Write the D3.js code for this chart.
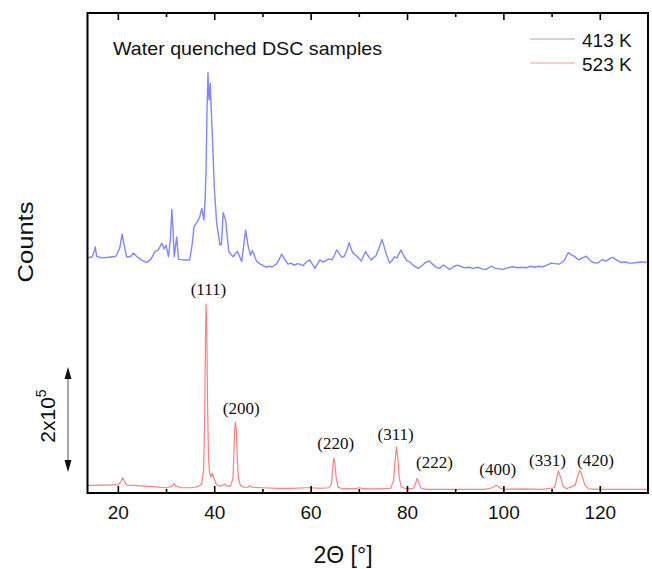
<!DOCTYPE html>
<html>
<head>
<meta charset="utf-8">
<script src="https://cdn.jsdelivr.net/npm/d3@7/dist/d3.min.js"></script>
<style>
  body { margin: 0; background: #fff; }
  text { font-family: "Liberation Sans", Arial, sans-serif; fill: #111; }
  .hkl { font-family: "Liberation Serif", "Times New Roman", serif; }
</style>
</head>
<body>
<div id="chart"></div>
<script>
// counts are in units of 10^3 ([2theta, kcounts])
var scan413 = [
  [13.6,448],[14.6,450],[15.0,461],[15.2,469],[15.5,451],[16.5,448],[18,449],[19.5,451],
  [20.3,467],[20.8,493],[21.2,472],[21.7,450],[22.5,450],[23.1,457],[23.8,451],[24.7,444],
  [25.9,439],[26.8,446],[27.6,460],[28.3,463],[29.0,476],[29.5,465],[29.9,472],[30.4,450],
  [30.8,483],[31.1,540],[31.4,491],[31.6,450],[32.1,488],[32.5,445],[33.5,444],[34.8,444],
  [35.3,472],[35.7,507],[36.2,514],[36.6,520],[36.9,526],[37.3,542],[37.75,520],[38.0,558],
  [38.2,615],[38.4,730],[38.6,801],[38.75,758],[38.85,749],[39.06,780],[39.27,730],[39.55,672],
  [39.9,583],[40.4,514],[41.1,472],[41.4,474],[41.75,534],[42.25,520],[42.9,460],[43.8,450],
  [44.7,460],[45.6,441],[46.4,501],[46.9,472],[47.4,453],[47.8,462],[48.7,441],[49.3,437],
  [49.9,434],[50.7,430],[51.3,432],[51.9,431],[52.8,436],[53.3,444],[53.9,455],[54.4,447],
  [55.2,436],[55.8,438],[56.5,434],[57.2,437],[57.65,436],[58.3,433],[59.0,440],[59.7,444],
  [60.2,437],[60.8,428],[61.3,436],[61.8,444],[62.4,440],[63,442],[63.6,446],[64.3,444],
  [64.8,452],[65.3,463],[65.9,455],[66.4,449],[66.9,451],[67.4,462],[67.9,477],[68.3,465],
  [68.7,457],[69.4,452],[70.0,446],[70.4,442],[70.9,452],[71.3,460],[71.8,452],[72.5,444],
  [73.0,449],[73.4,451],[74.0,465],[74.7,483],[75.2,468],[75.7,452],[76.3,438],[76.8,443],
  [77.3,450],[77.8,448],[78.2,455],[78.7,463],[79.2,452],[79.8,443],[80.5,440],[81.3,433],
  [82.2,428],[82.9,432],[83.7,439],[84.5,442],[85.2,436],[85.9,430],[86.7,428],[87.1,432],
  [87.5,434],[88.1,430],[88.7,426],[89.5,431],[90.4,434],[91.2,431],[92.0,429],[92.8,430],
  [93.6,428],[94.5,430],[95.4,427],[96.35,426],[97.0,430],[97.5,432],[98.2,428],[99.0,427],
  [99.8,426],[100.8,429],[101.9,431],[102.8,429],[103.6,430],[104.6,429],[105.5,432],[106.4,430],
  [107.2,432],[108.1,431],[108.9,434],[109.8,438],[110.6,437],[111.5,436],[112.1,440],[112.6,444],
  [113.0,452],[113.4,458],[113.9,454],[114.6,451],[115.1,447],[115.6,444],[116.3,448],[117.1,451],
  [117.8,444],[118.5,439],[119.5,438],[120.0,442],[120.5,445],[121.0,442],[121.5,443],[122.0,447],
  [122.6,449],[123.0,446],[123.4,444],[124.3,439],[125.2,440],[126.0,438],[126.7,438],[127.6,439],
  [128.5,440],[129.5,439],[129.9,442]
];

var scan523 = [
  [13.6,14],[16,15],[18,15],[20,16],[20.5,21],[20.9,29],[21.3,21],[21.8,15],[24,14],[27,12],
  [30,10],[31.2,13],[31.6,18],[32.0,13],[33,10],[35,10],[36.5,12],[37.3,17],[37.7,44],[37.9,139],
  [38.1,311],[38.2,360],[38.35,311],[38.5,177],[38.7,72],[38.9,40],[39.2,30],[39.5,38],[39.8,29],
  [40.3,17],[41,13],[41.7,15],[42.1,17],[42.5,13],[43.3,13],[43.8,29],[44.0,82],[44.15,124],
  [44.3,135],[44.5,116],[44.7,63],[44.9,29],[45.3,15],[46,11],[47.0,11],[47.3,14],[47.7,11],
  [50,10],[53,9],[56,9],[59,10],[60,10],[62,9],[63.8,10],[64.2,17],[64.5,48],[64.7,66],[64.9,59],
  [65.2,29],[65.6,11],[66.5,8],[69.5,9],[70,10],[71,8],[74,8],[76.5,9],[77.1,23],[77.4,59],
  [77.7,88],[78.0,66],[78.3,29],[78.7,11],[80,8],[81.3,9],[81.7,19],[82.0,28],[82.3,21],[82.8,9],
  [84,7],[88,7],[92,7],[96,7],[97.6,10],[98.4,15],[99.1,10],[100,7],[104,8],[108,7],[110.5,10],
  [110.9,25],[111.3,42],[111.7,32],[112.3,13],[113,8],[114.8,15],[115.4,36],[115.8,43],[116.2,34],
  [116.8,15],[117.6,8],[120,7],[124,7],[128,7],[129.9,7]
];

var hklLabels = ["(111)", "(200)", "(220)", "(311)", "(222)", "(400)", "(331)", "(420)"];
var hklTheta = [38.7, 45.5, 65.1, 77.55, 85.6, 98.7, 109.05, 119.0];
var hklCounts = [377, 150, 83, 101, 47, 34, 51, 51];

var seriesNames = ["413 K", "523 K"];
var seriesColors = ["#8088ff", "#ff8080"];
var majorTicks = [20, 40, 60, 80, 100, 120];
var minorTicks = [30, 50, 70, 90, 110];

var width = 652, height = 569;
var pLeft = 87.5, pRight = 648, pTop = 13, pBottom = 493;

var svg = d3.select("#chart").append("svg")
  .attr("width", width)
  .attr("height", height);

var x = d3.scaleLinear().domain([13.6, 129.9]).range([pLeft, pRight]);
var y = d3.scaleLinear().domain([0, 914.4]).range([pBottom, pTop]);

var line = d3.line()
  .x(d => x(d[0]))
  .y(d => y(d[1]));

// curves
[scan413, scan523].forEach(function(s, i) {
  svg.append("path")
    .datum(s)
    .attr("fill", "none")
    .attr("stroke", seriesColors[i])
    .attr("stroke-width", i == 0 ? 1.4 : 1.2)
    .attr("stroke-linejoin", "round")
    .attr("d", line);
});

// ticks, inward, bottom and top
var tickG = svg.append("g").attr("stroke", "#000").attr("stroke-width", 1.6);
majorTicks.forEach(function(t) {
  tickG.append("line").attr("x1", x(t)).attr("x2", x(t)).attr("y1", pBottom).attr("y2", pBottom - 7);
  tickG.append("line").attr("x1", x(t)).attr("x2", x(t)).attr("y1", pTop).attr("y2", pTop + 7);
});
minorTicks.forEach(function(t) {
  tickG.append("line").attr("x1", x(t)).attr("x2", x(t)).attr("y1", pBottom).attr("y2", pBottom - 4);
  tickG.append("line").attr("x1", x(t)).attr("x2", x(t)).attr("y1", pTop).attr("y2", pTop + 4);
});

svg.append("g").selectAll("text").data(majorTicks).enter().append("text")
  .attr("x", d => x(d))
  .attr("y", 519)
  .attr("text-anchor", "middle")
  .style("font-size", "19px")
  .text(d => d);

// frame
svg.append("rect")
  .attr("x", pLeft).attr("y", pTop)
  .attr("width", pRight - pLeft).attr("height", pBottom - pTop)
  .attr("fill", "none")
  .attr("stroke", "#000")
  .attr("stroke-width", 2);

// axis titles
svg.append("text")
  .attr("x", 343).attr("y", 563)
  .attr("text-anchor", "middle")
  .style("font-size", "23px")
  .text("2\u0398 [\u00b0]");

svg.append("text")
  .attr("transform", "translate(33,242) rotate(-90)")
  .attr("text-anchor", "middle")
  .attr("textLength", 81)
  .attr("lengthAdjust", "spacingAndGlyphs")
  .style("font-size", "22px")
  .text("Counts");

// scale bar 2x10^5
var barX = 68;
svg.append("line")
  .attr("x1", barX).attr("x2", barX)
  .attr("y1", y(240) + 8).attr("y2", y(40) - 8)
  .attr("stroke", "#888").attr("stroke-width", 1.5);
svg.append("path")
  .attr("d", `M${barX},${y(240)} l-3.5,12 l7,0 Z M${barX},${y(40)} l-3.5,-12 l7,0 Z`)
  .attr("fill", "#111");

var sb = svg.append("text")
  .attr("transform", "translate(55,416) rotate(-90)")
  .attr("text-anchor", "middle")
  .style("font-size", "21px");
sb.append("tspan").text("2x10");
sb.append("tspan").attr("dy", -9).style("font-size", "14px").text("5");

// title
svg.append("text")
  .attr("x", 113).attr("y", 55)
  .attr("textLength", 269)
  .attr("lengthAdjust", "spacingAndGlyphs")
  .style("font-size", "18.5px")
  .text("Water quenched DSC samples");

// legend
var legendY = [39, 63];
seriesNames.forEach(function(n, i) {
  svg.append("line")
    .attr("x1", 530).attr("x2", 575)
    .attr("y1", legendY[i]).attr("y2", legendY[i])
    .attr("stroke", seriesColors[i]).attr("stroke-width", 1)
    .attr("opacity", 0.8);
  svg.append("text")
    .attr("x", 582).attr("y", legendY[i] + 7.5)
    .style("font-size", "19px")
    .text(n);
});

// peak labels
svg.append("g").selectAll("text").data(hklLabels).enter().append("text")
  .attr("class", "hkl")
  .attr("x", (d, i) => x(hklTheta[i]))
  .attr("y", (d, i) => y(hklCounts[i]))
  .attr("text-anchor", "middle")
  .style("font-size", "17px")
  .text(d => d);
</script>
</body>
</html>
